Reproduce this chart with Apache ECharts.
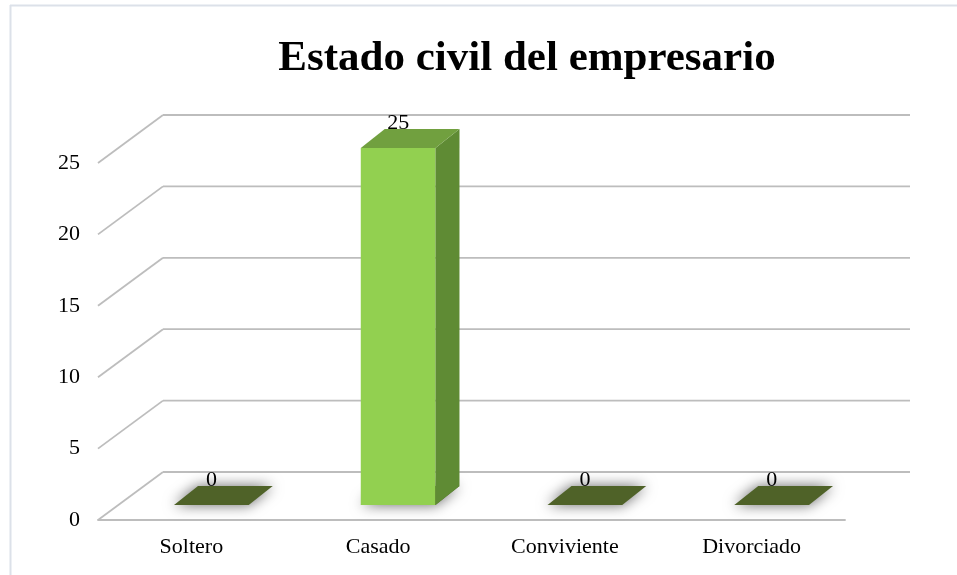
<!DOCTYPE html>
<html>
<head>
<meta charset="utf-8">
<script src="https://cdn.jsdelivr.net/npm/echarts@6/dist/echarts.min.js"></script>
<style>html,body{margin:0;padding:0;background:#fff}#c{width:957px;height:575px}</style>
</head>
<body>
<div id="c"></div>
<script>
const categories = ['Soltero', 'Casado', 'Conviviente', 'Divorciado'];
const values = [0, 25, 0, 0];
const yTicks = [0, 5, 10, 15, 20, 25];
const titleText = 'Estado civil del empresario';

const FONT = '"Liberation Serif", "Times New Roman", serif';
const DX = 65, DY = 48;          // wall depth
const OFX = 20, OFY = 15;        // bar front offset into depth
const BDX = 24, BDY = 19;        // bar depth

const chart = echarts.init(document.getElementById('c'));

function gridRender(params, api) {
  const v = api.value(1);
  const p = api.coord([0, v]);
  const band = api.size([1, 0])[0];
  const left = p[0] - band / 2;
  const right = left + band * categories.length;
  const y = p[1];
  const st = { stroke: '#BDBDBD', lineWidth: 1.8 };
  return {
    type: 'group',
    children: [
      { type: 'line', shape: { x1: left, y1: y, x2: left + DX, y2: y - DY }, style: st },
      { type: 'line', shape: { x1: left + DX, y1: y - DY, x2: right + DX, y2: y - DY }, style: st }
    ]
  };
}

function barRender(params, api) {
  const i = api.value(0);
  const v = api.value(1);
  const c = api.coord([i, v]);
  const b = api.coord([i, 0]);
  const band = api.size([1, 0])[0];
  const w = band * 0.4;
  const cx = c[0] + OFX;
  const x0 = cx - w / 2, x1 = cx + w / 2;
  const yTop = c[1] - OFY, yBot = b[1] - OFY;
  const children = [];
  children.push({
    type: 'polygon',
    shape: { points: [[x0, yBot], [x1, yBot], [x1 + BDX, yBot - BDY], [x0 + BDX, yBot - BDY]] },
    style: { fill: '#4F6228', shadowBlur: 14, shadowColor: 'rgba(0,0,0,0.6)' }
  });
  if (yBot - yTop > 0.5) {
    children.push({
      type: 'rect', shape: { x: x0, y: yTop, width: w, height: yBot - yTop },
      style: { fill: '#92D050' }
    });
    children.push({
      type: 'polygon',
      shape: { points: [[x1, yTop], [x1 + BDX, yTop - BDY], [x1 + BDX, yBot - BDY], [x1, yBot]] },
      style: { fill: '#5F8B34' }
    });
    children.push({
      type: 'polygon',
      shape: { points: [[x0, yTop], [x1, yTop], [x1 + BDX, yTop - BDY], [x0 + BDX, yTop - BDY]] },
      style: { fill: '#71A03F' }
    });
  }
  children.push({
    type: 'text',
    style: {
      text: String(v), x: cx, y: yTop - BDY + 5,
      textAlign: 'center', textVerticalAlign: 'bottom',
      font: '22px ' + FONT, fill: '#000'
    },
    z2: 10
  });
  return { type: 'group', children };
}

chart.setOption({
  animation: false,
  backgroundColor: '#fff',
  title: {
    text: titleText,
    left: 522, top: 32, textAlign: 'center',
    textStyle: { fontFamily: FONT, fontSize: 43, fontWeight: 'bold', color: '#000' }
  },
  graphic: [
    { type: 'line', shape: { x1: 10, y1: 5.5, x2: 957, y2: 5.5 }, style: { stroke: '#DCE1E9', lineWidth: 2 }, silent: true },
    { type: 'line', shape: { x1: 10.5, y1: 5, x2: 10.5, y2: 575 }, style: { stroke: '#DCE1E9', lineWidth: 2 }, silent: true }
  ],
  grid: { left: 98, right: 112, top: 163, bottom: 55, containLabel: false },
  xAxis: {
    type: 'category', data: categories,
    axisLine: { show: true, lineStyle: { color: '#BDBDBD', width: 1.8 } },
    axisTick: { show: false },
    axisLabel: { color: '#000', fontFamily: FONT, fontSize: 22, margin: 16 },
    splitLine: { show: false }
  },
  yAxis: {
    type: 'value', min: 0, max: 25, interval: 5,
    axisLine: { show: false }, axisTick: { show: false },
    splitLine: { show: false },
    axisLabel: { color: '#000', fontFamily: FONT, fontSize: 22, margin: 18 }
  },
  series: [
    {
      type: 'custom', renderItem: gridRender, silent: true, z: 1,
      data: yTicks.map(t => [0, t])
    },
    {
      type: 'custom', renderItem: barRender, silent: true, z: 3,
      data: values.map((v, i) => [i, v])
    }
  ]
});
</script>
</body>
</html>
